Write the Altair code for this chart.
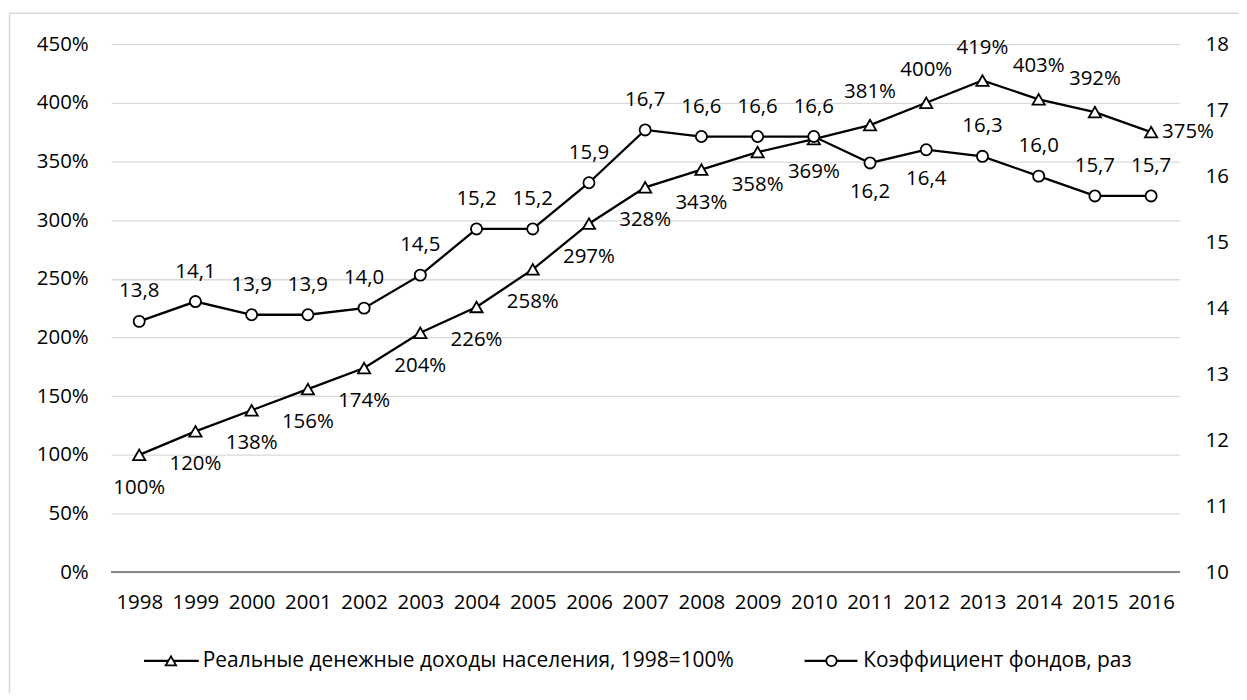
import altair as alt
import pandas as pd

years = [str(y) for y in range(1998, 2017)]
income = [100, 120, 138, 156, 174, 204, 226, 258, 297, 328, 343, 358, 369, 381, 400, 419, 403, 392, 375]
coef = [13.8, 14.1, 13.9, 13.9, 14.0, 14.5, 15.2, 15.2, 15.9, 16.7, 16.6, 16.6, 16.6, 16.2, 16.4, 16.3, 16.0, 15.7, 15.7]
income_label_side = ["below"] * 13 + ["above"] * 5 + ["right"]
coef_label_side = ["above"] * 13 + ["below", "below"] + ["above"] * 4
left_ticks = [0, 50, 100, 150, 200, 250, 300, 350, 400, 450]
right_ticks = [10, 11, 12, 13, 14, 15, 16, 17, 18]
series_names = ["Реальные денежные доходы населения, 1998=100%", "Коэффициент фондов, раз"]

df = pd.DataFrame({
    "year": years,
    "income": income,
    "coef": coef,
    "inc_lab": [f"{v}%" for v in income],
    "coef_lab": [f"{v:.1f}".replace(".", ",") for v in coef],
    "inc_side": income_label_side,
    "coef_side": coef_label_side,
})

FONT = "Open Sans"
FS = 20.5
W, H = 1072, 530

X = alt.X("year:O", title=None,
          axis=alt.Axis(labelAngle=0, labelFont=FONT, labelFontSize=FS, labelColor="#000",
                        labelPadding=20, ticks=False, domain=False, grid=False))

YL = alt.Y("income:Q", title=None,
           scale=alt.Scale(domain=[0, 450], nice=False, zero=True),
           axis=alt.Axis(values=left_ticks, labelExpr="datum.value + '%'", labelFont=FONT,
                         labelFontSize=FS, labelColor="#000", labelPadding=23, ticks=False,
                         domain=False, gridColor="#d9d9d9", gridWidth=1.3))
YR = alt.Y("coef:Q", title=None,
           scale=alt.Scale(domain=[10, 18], nice=False, zero=False),
           axis=alt.Axis(orient="right", values=right_ticks, labelFont=FONT, labelFontSize=FS,
                         labelColor="#000", labelPadding=26, ticks=False, domain=False, grid=False))

base = alt.Chart(df)

inc_line = base.mark_line(color="black", strokeWidth=2.3).encode(x=X, y=YL)
inc_pts = base.mark_point(shape="triangle-up", filled=True, fill="white", stroke="black",
                          strokeWidth=1.8, size=150, opacity=1).encode(x=X, y=YL)
baseline = base.mark_rule(color="#868686", strokeWidth=1.5).encode(
    y=alt.datum(0), x=alt.value(0), x2=alt.value(W))


def inc_text(side, **kw):
    return base.transform_filter(alt.datum.inc_side == side).mark_text(
        font=FONT, fontSize=FS, color="black", **kw).encode(x=X, y=YL, text="inc_lab:N")


inc_below = inc_text("below", dy=33)
inc_above = inc_text("above", dy=-33)
inc_right = inc_text("right", dx=11, align="left")

# legend & frame (decorative, pixel positioned)
LY = 619
one = pd.DataFrame({"n": [0]})
leg1_line = alt.Chart(one).mark_rule(color="black", strokeWidth=2.3).encode(
    x=alt.value(33), x2=alt.value(88), y=alt.value(LY))
leg1_pt = alt.Chart(one).mark_point(
    shape="triangle-up", filled=True, fill="white", stroke="black", strokeWidth=1.8, size=110, opacity=1
).encode(x=alt.value(60), y=alt.value(LY))
leg1_txt = alt.Chart(pd.DataFrame({"n": [series_names[0]]})).mark_text(
    font=FONT, fontSize=21, align="left", baseline="middle", color="black"
).encode(x=alt.value(92), y=alt.value(LY), text="n:N")
leg2_line = alt.Chart(one).mark_rule(color="black", strokeWidth=2.3).encode(
    x=alt.value(696), x2=alt.value(749), y=alt.value(LY))
leg2_pt = alt.Chart(one).mark_point(
    shape="circle", filled=True, fill="white", stroke="black", strokeWidth=1.8, size=110, opacity=1
).encode(x=alt.value(723), y=alt.value(LY))
leg2_txt = alt.Chart(pd.DataFrame({"n": [series_names[1]]})).mark_text(
    font=FONT, fontSize=21, align="left", baseline="middle", color="black"
).encode(x=alt.value(755), y=alt.value(LY), text="n:N")
frame_top = alt.Chart(one).mark_rule(color="#d9d9d9", strokeWidth=1.5).encode(
    x=alt.value(-102), x2=alt.value(W + 70), y=alt.value(-31))
frame_left = alt.Chart(one).mark_rule(color="#d9d9d9", strokeWidth=1.5).encode(
    x=alt.value(-102), y=alt.value(-31), y2=alt.value(H + 130))

left = alt.layer(inc_line, baseline, inc_pts, inc_below, inc_above, inc_right)

coef_line = base.mark_line(color="black", strokeWidth=2.3).encode(x=X, y=YR)
coef_pts = base.mark_point(shape="circle", filled=True, fill="white", stroke="black",
                           strokeWidth=1.8, size=125, opacity=1).encode(x=X, y=YR)


def coef_text(side, **kw):
    return base.transform_filter(alt.datum.coef_side == side).mark_text(
        font=FONT, fontSize=FS, color="black", **kw).encode(x=X, y=YR, text="coef_lab:N")


right = alt.layer(coef_line, coef_pts, coef_text("above", dy=-30), coef_text("below", dy=29))

deco = alt.layer(frame_top, frame_left, leg1_line, leg1_pt, leg1_txt, leg2_line, leg2_pt, leg2_txt)

chart = alt.layer(left, right, deco).resolve_scale(y="independent").properties(
    width=W, height=H,
    autosize=alt.AutoSizeParams(type="none"),
    padding={"left": 103.5, "top": 35, "right": 60, "bottom": 120},
    background="white",
).configure_view(stroke=None)

chart.save("out.html", embed_options={"renderer": "svg", "actions": False})
